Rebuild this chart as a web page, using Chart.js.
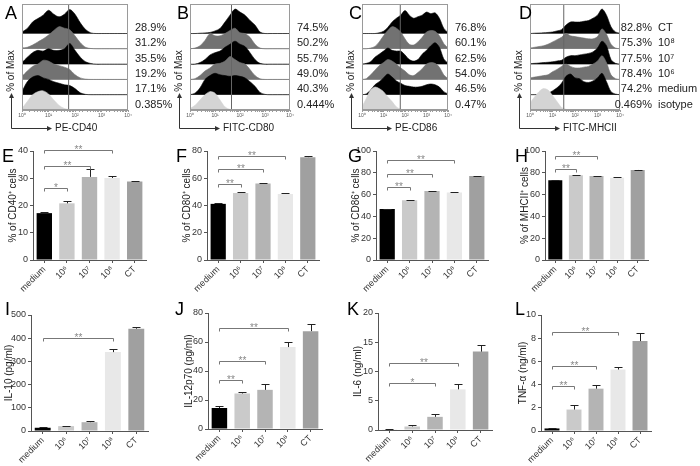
<!DOCTYPE html>
<html>
<head>
<meta charset="utf-8">
<script src="https://cdn.jsdelivr.net/npm/chart.js@4.4.0/dist/chart.umd.min.js"></script>
<style>
html, body { margin: 0; padding: 0; background: #fff; }
#wrap { position: relative; width: 700px; height: 466px; overflow: hidden; font-family: Arial, "Liberation Sans", sans-serif; }
#wrap canvas { position: absolute; left: 0; top: 0; }
.lt { position: absolute; font-size: 18px; line-height: 18px; color: #000; }
</style>
</head>
<body>
<div id="wrap">
  <canvas id="cA" width="700" height="466"></canvas>
  <canvas id="cB" width="700" height="466"></canvas>
  <canvas id="cC" width="700" height="466"></canvas>
  <canvas id="cD" width="700" height="466"></canvas>
  <canvas id="cE" width="700" height="466"></canvas>
  <canvas id="cF" width="700" height="466"></canvas>
  <canvas id="cG" width="700" height="466"></canvas>
  <canvas id="cH" width="700" height="466"></canvas>
  <canvas id="cI" width="700" height="466"></canvas>
  <canvas id="cJ" width="700" height="466"></canvas>
  <canvas id="cK" width="700" height="466"></canvas>
  <canvas id="cL" width="700" height="466"></canvas>
  <div class="lt" style="left:5px;top:4px">A</div>
  <div class="lt" style="left:177px;top:4px">B</div>
  <div class="lt" style="left:349px;top:4px">C</div>
  <div class="lt" style="left:519px;top:4px">D</div>
  <div class="lt" style="left:2px;top:147px">E</div>
  <div class="lt" style="left:176px;top:147px">F</div>
  <div class="lt" style="left:348px;top:147px">G</div>
  <div class="lt" style="left:515px;top:147px">H</div>
  <div class="lt" style="left:5px;top:300px">I</div>
  <div class="lt" style="left:175px;top:300px">J</div>
  <div class="lt" style="left:347px;top:300px">K</div>
  <div class="lt" style="left:515px;top:300px">L</div>
</div>
<script>
// ---- data ----
const groups = ['medium', '10⁶', '10⁷', '10⁸', 'CT'];
const rowNames = ['isotype', 'medium', '10⁶', '10⁷', '10⁸', 'CT']; // bottom to top
const logBins = [0, 0.2, 0.4, 0.6, 0.8, 1, 1.2, 1.4, 1.6, 1.8, 2, 2.2, 2.4, 2.6, 2.8, 3, 3.2, 3.4, 3.6, 3.8, 4];

// histogram heights (in row units), rows bottom to top: isotype, medium, 10^6, 10^7, 10^8, CT
const cd40Hist = [
  [0.1, 0.55, 1.0, 1.2, 1.25, 1.05, 0.65, 0.3, 0.1, 0.02, 0, 0, 0, 0, 0, 0, 0, 0, 0, 0, 0],
  [0.2, 0.85, 1.15, 1.25, 1.1, 1.0, 0.85, 0.75, 0.65, 0.6, 0.4, 0.12, 0.02, 0, 0, 0, 0, 0, 0, 0, 0],
  [0.2, 0.55, 0.85, 1.0, 1.25, 1.2, 1.0, 0.9, 0.8, 0.65, 0.3, 0.1, 0.02, 0, 0, 0, 0, 0, 0, 0, 0],
  [0.1, 0.45, 0.75, 0.9, 0.85, 1.0, 0.9, 0.9, 1.0, 1.35, 0.9, 0.45, 0.15, 0.04, 0, 0, 0, 0, 0, 0, 0],
  [0.05, 0.1, 0.25, 0.45, 0.65, 0.9, 1.2, 1.45, 1.35, 1.25, 0.85, 0.4, 0.1, 0.02, 0, 0, 0, 0, 0, 0, 0],
  [0.1, 0.33, 0.76, 0.98, 1.2, 1.52, 1.26, 1.09, 1.26, 1.57, 1.26, 0.7, 0.26, 0.04, 0, 0, 0, 0, 0, 0, 0]
];
const cd80Hist = [
  [0.1, 0.3, 0.65, 1.0, 1.2, 1.1, 0.65, 0.2, 0.04, 0, 0, 0, 0, 0, 0, 0, 0, 0, 0, 0, 0],
  [0, 0.1, 0.45, 1.0, 1.25, 1.4, 1.3, 1.25, 1.2, 1.25, 1.2, 1.1, 0.85, 0.55, 0.15, 0.02, 0, 0, 0, 0, 0],
  [0, 0.05, 0.25, 0.55, 0.75, 1.0, 1.05, 1.2, 1.5, 1.3, 1.1, 1.0, 0.65, 0.25, 0.04, 0, 0, 0, 0, 0, 0],
  [0, 0, 0.1, 0.3, 0.6, 0.75, 0.85, 1.1, 1.3, 1.5, 1.3, 1.15, 0.75, 0.3, 0.05, 0, 0, 0, 0, 0, 0],
  [0, 0.05, 0.2, 0.55, 1.0, 0.85, 0.85, 1.0, 1.2, 1.35, 1.05, 1.0, 0.75, 0.3, 0.05, 0, 0, 0, 0, 0, 0],
  [0, 0, 0.02, 0.04, 0.07, 0.17, 0.33, 0.75, 1.2, 1.6, 1.4, 1.2, 0.85, 0.55, 0.1, 0, 0, 0, 0, 0, 0]
];
const cd86Hist = [
  [0.2, 0.75, 1.3, 1.5, 1.4, 1.2, 0.85, 0.55, 0.2, 0.05, 0, 0, 0, 0, 0, 0, 0, 0, 0, 0, 0],
  [0, 0.05, 0.3, 0.65, 0.85, 1.1, 1.35, 1.15, 0.9, 0.75, 0.6, 0.55, 0.5, 0.5, 0.55, 0.65, 0.7, 0.65, 0.5, 0.2, 0.05],
  [0, 0.05, 0.3, 0.6, 0.9, 1.1, 1.3, 1.2, 1.0, 0.75, 0.55, 0.3, 0.25, 0.45, 0.7, 1.0, 1.1, 1.05, 0.8, 0.3, 0.05],
  [0, 0.05, 0.15, 0.45, 0.65, 0.85, 1.05, 0.9, 0.85, 0.85, 0.6, 0.3, 0.2, 0.3, 0.65, 0.9, 1.2, 1.4, 1.1, 0.35, 0.05],
  [0, 0, 0.05, 0.15, 0.45, 0.85, 1.2, 1.45, 1.35, 1.1, 0.65, 0.3, 0.25, 0.45, 0.75, 1.1, 1.2, 1.15, 0.85, 0.35, 0.05],
  [0, 0, 0, 0, 0.05, 0.15, 0.4, 0.75, 1.0, 1.2, 1.5, 1.2, 1.0, 1.1, 1.2, 1.4, 1.3, 1.35, 1.0, 0.35, 0.05]
];
const mhcHist = [
  [0.45, 0.85, 1.2, 1.4, 1.3, 0.95, 0.55, 0.17, 0.04, 0, 0, 0, 0, 0, 0, 0, 0, 0, 0, 0, 0],
  [0, 0, 0.02, 0.05, 0.1, 0.25, 0.45, 0.75, 1.2, 1.35, 1.1, 1.05, 0.85, 0.8, 0.9, 1.1, 1.4, 0.85, 0.2, 0.04, 0],
  [0.1, 0.15, 0.2, 0.25, 0.3, 0.5, 0.65, 0.85, 1.0, 0.85, 0.75, 0.75, 0.8, 0.85, 1.0, 1.2, 1.55, 1.1, 0.3, 0.05, 0],
  [0.03, 0.05, 0.07, 0.1, 0.12, 0.15, 0.2, 0.25, 0.45, 0.55, 0.55, 0.6, 0.65, 0.7, 0.8, 1.05, 1.5, 1.2, 0.3, 0.05, 0],
  [0.05, 0.1, 0.15, 0.2, 0.3, 0.45, 0.6, 0.75, 1.0, 0.85, 0.8, 0.75, 0.7, 0.65, 0.65, 0.8, 1.3, 0.95, 0.3, 0.05, 0],
  [0, 0.02, 0.03, 0.05, 0.07, 0.1, 0.17, 0.25, 0.55, 0.75, 0.75, 0.75, 0.8, 0.85, 1.0, 1.2, 1.6, 1.2, 0.45, 0.1, 0.02]
];

// gate position (log10 of fluorescence) and % positive, bottom to top
const cd40Gate = 1.76, cd80Gate = 1.66, cd86Gate = 1.78, mhcGate = 1.5;
const cd40Pct = ['0.385%', '17.1%', '19.2%', '35.5%', '31.2%', '28.9%'];
const cd80Pct = ['0.444%', '40.3%', '49.0%', '55.7%', '50.2%', '74.5%'];
const cd86Pct = ['0.47%', '46.5%', '54.0%', '62.5%', '60.1%', '76.8%'];
const mhcPct = ['0.469%', '74.2%', '78.4%', '77.5%', '75.3%', '82.8%'];

// bar values (mean) and error (SEM)
const cd40Mean = [17.2, 20.8, 30.5, 30.1, 28.8];
const cd40Err = [0.5, 1.0, 2.8, 0.6, 0.2];
const cd80Mean = [41.2, 49.2, 56.2, 48.5, 75.5];
const cd80Err = [0.5, 0.4, 0.5, 1.0, 0.6];
const cd86Mean = [46.8, 54.8, 63.2, 62.0, 77.0];
const cd86Err = [0.4, 0.4, 0.4, 0.6, 0.3];
const mhcMean = [73.2, 77.8, 77.0, 75.4, 82.6];
const mhcErr = [0.5, 0.3, 0.4, 0.3, 0.3];
const il10Mean = [14, 21, 38, 340, 441];
const il10Err = [2, 2, 6, 15, 8];
const il12Mean = [14.5, 24.5, 27, 56.5, 67.5];
const il12Err = [1.2, 0.8, 4, 3.5, 5];
const il6Mean = [0.08, 0.6, 2.25, 6.95, 13.4];
const il6Err = [0.02, 0.2, 0.4, 0.9, 1.1];
const tnfMean = [0.22, 1.85, 3.65, 5.3, 7.75];
const tnfErr = [0.03, 0.42, 0.35, 0.22, 0.68];

// significance brackets: [from group, to group, level, label]
const cd40Sig = [[0, 1, 26.5, '*'], [0, 2, 34.6, '**'], [0, 3, 40.4, '**']];
const cd80Sig = [[0, 1, 56, '**'], [0, 2, 67, '**'], [0, 3, 76, '**']];
const cd86Sig = [[0, 1, 67, '**'], [0, 2, 79, '**'], [0, 3, 92, '**']];
const mhcSig = [[0, 1, 83.5, '**'], [0, 2, 95, '**']];
const il10Sig = [[0, 3, 403, '**']];
const il12Sig = [[0, 1, 34, '**'], [0, 2, 47, '**'], [0, 3, 69.5, '**']];
const il6Sig = [[0, 2, 8.1, '*'], [0, 3, 11.5, '**']];
const tnfSig = [[0, 1, 3.9, '**'], [0, 2, 5.6, '**'], [0, 3, 8.5, '**']];

// ---- styling ----
const fam = 'Arial, "Liberation Sans", sans-serif';
Chart.defaults.font.family = fam;
Chart.defaults.color = '#333';
const barColors = ['#000000', '#cacaca', '#b4b4b4', '#e8e8e8', '#a0a0a0'];
const rowColors = ['#d4d4d4', '#000000', '#727272', '#000000', '#727272', '#000000'];
const axisCol = '#555';
const supDigits = ['⁰', '¹', '²', '³', '⁴'];

const histDeco = {
  id: 'histDeco',
  afterDraw(chart, args, o) {
    const { ctx, chartArea: a, scales: { y } } = chart;
    ctx.save();
    ctx.strokeStyle = '#9a9a9a';
    ctx.lineWidth = 1;
    ctx.strokeRect(a.left + 0.5, a.top + 0.5, a.right - a.left - 1, a.bottom - a.top - 1);
    ctx.fillStyle = '#222';
    ctx.font = '11px ' + fam;
    ctx.textBaseline = 'middle';
    o.pct.forEach((t, i) => {
      const yy = y.getPixelForValue(i + 0.35);
      if (o.names) {
        ctx.textAlign = 'right';
        ctx.fillText(t, a.right + 32, yy);
        ctx.textAlign = 'left';
        ctx.fillText(o.names[i], a.right + 38, yy);
      } else {
        ctx.textAlign = 'left';
        ctx.fillText(t, a.right + 7, yy);
      }
    });
    // axis arrows
    const ax = a.left - 10.5, ay = a.bottom + 18.5;
    ctx.strokeStyle = '#333';
    ctx.fillStyle = '#333';
    ctx.beginPath();
    ctx.moveTo(ax, a.bottom - 13);
    ctx.lineTo(ax, ay);
    ctx.lineTo(a.left + 25, ay);
    ctx.stroke();
    ctx.beginPath();
    ctx.moveTo(ax, a.bottom - 17); ctx.lineTo(ax - 2.5, a.bottom - 12); ctx.lineTo(ax + 2.5, a.bottom - 12);
    ctx.fill();
    ctx.beginPath();
    ctx.moveTo(a.left + 30, ay); ctx.lineTo(a.left + 25, ay - 2.5); ctx.lineTo(a.left + 25, ay + 2.5);
    ctx.fill();
    ctx.font = '10px ' + fam;
    ctx.fillStyle = '#222';
    ctx.textAlign = 'left';
    ctx.fillText(o.xTitle, a.left + 33, ay);
    ctx.translate(ax, a.bottom - 39);
    ctx.rotate(-Math.PI / 2);
    ctx.textAlign = 'center';
    ctx.fillText('% of Max', 0, 0);
    ctx.restore();
  }
};

const barDeco = {
  id: 'barDeco',
  afterDraw(chart, args, o) {
    const { ctx, scales: { x, y } } = chart;
    ctx.save();
    ctx.strokeStyle = '#222';
    ctx.lineWidth = 1;
    o.vals.forEach((v, i) => {
      const cx = Math.round(x.getPixelForValue(i)) + 0.5;
      const y0 = y.getPixelForValue(v), y1 = Math.round(y.getPixelForValue(v + o.errs[i])) + 0.5;
      ctx.beginPath();
      ctx.moveTo(cx, y0); ctx.lineTo(cx, y1);
      ctx.moveTo(cx - 4, y1); ctx.lineTo(cx + 4, y1);
      ctx.stroke();
    });
    ctx.strokeStyle = '#777';
    ctx.fillStyle = '#888';
    ctx.font = '10px ' + fam;
    ctx.textAlign = 'center';
    ctx.textBaseline = 'alphabetic';
    o.sig.forEach(([p, q, lv, lab]) => {
      const x0 = Math.round(x.getPixelForValue(p)) + 0.5, x1 = Math.round(x.getPixelForValue(q)) + 0.5;
      const yy = Math.round(y.getPixelForValue(lv)) + 0.5;
      ctx.beginPath();
      ctx.moveTo(x0, yy + 3); ctx.lineTo(x0, yy); ctx.lineTo(x1, yy); ctx.lineTo(x1, yy + 3);
      ctx.stroke();
      ctx.fillText(lab, (x0 + x1) / 2, yy + 2);
    });
    ctx.restore();
  }
};

function histChart(id, area, rows, gate, pct, names, xTitle) {
  const yMax = 6.93;
  const datasets = rows.map((h, i) => ({
    data: h.map((v, k) => ({ x: Math.pow(10, logBins[k]), y: i + v })),
    fill: { value: i },
    backgroundColor: rowColors[i],
    borderColor: rowColors[i],
    borderWidth: 0.6,
    pointRadius: 0,
    tension: 0.3
  }));
  datasets.push({
    data: [{ x: Math.pow(10, gate), y: 0 }, { x: Math.pow(10, gate), y: yMax }],
    borderColor: '#666', borderWidth: 1, pointRadius: 0, fill: false, order: -1
  });
  new Chart(document.getElementById(id), {
    type: 'line',
    data: { datasets },
    options: {
      responsive: false, animation: false, devicePixelRatio: 1,
      layout: { padding: { left: area.left - 2, top: area.top, right: 700 - area.right, bottom: 466 - area.bottom - 12 } },
      plugins: { legend: { display: false }, tooltip: { enabled: false }, histDeco: { pct, names, xTitle } },
      scales: {
        x: {
          type: 'logarithmic', min: 1, max: 10000,
          border: { color: '#9a9a9a' },
          grid: { drawOnChartArea: false, tickLength: 2, color: '#9a9a9a' },
          ticks: {
            autoSkip: false, maxRotation: 0, padding: 1, color: '#555', font: { size: 5 },
            callback: (v) => {
              const e = Math.log10(v);
              return Math.abs(e - Math.round(e)) < 1e-9 ? '10' + supDigits[Math.round(e)] : '';
            }
          },
          afterFit: (s) => { s.height = 12; }
        },
        y: {
          min: 0, max: yMax,
          border: { color: '#9a9a9a' },
          grid: { color: '#a8a8a8', drawTicks: false },
          ticks: { display: false },
          afterBuildTicks: (s) => { s.ticks = [1, 2, 3, 4, 5].map((v) => ({ value: v })); },
          afterFit: (s) => { s.width = 2; }
        }
      }
    },
    plugins: [histDeco]
  });
}

function barChart(id, area, vals, errs, sig, yMax, yStep, yTitle, titleX) {
  const yW = area.left - titleX + 6;
  new Chart(document.getElementById(id), {
    type: 'bar',
    data: {
      labels: groups,
      datasets: [{ data: vals, backgroundColor: barColors, borderWidth: 0, barPercentage: 0.68, categoryPercentage: 1 }]
    },
    options: {
      responsive: false, animation: false, devicePixelRatio: 1,
      layout: { padding: { left: area.left - yW, top: area.top, right: 700 - area.right, bottom: 466 - area.bottom - 40 } },
      plugins: { legend: { display: false }, tooltip: { enabled: false }, barDeco: { vals, errs, sig } },
      scales: {
        x: {
          offset: true,
          border: { color: axisCol },
          grid: { offset: false, drawOnChartArea: false, tickLength: 3, color: axisCol },
          ticks: { autoSkip: false, minRotation: 45, maxRotation: 45, padding: 1, color: '#333', font: { size: 9 } },
          afterFit: (s) => { s.height = 40; }
        },
        y: {
          min: 0, max: yMax,
          border: { color: axisCol },
          grid: { drawOnChartArea: false, tickLength: 3, color: axisCol },
          ticks: { stepSize: yStep, padding: 2, color: '#333', font: { size: 9 } },
          title: { display: true, text: yTitle, padding: 0, color: '#222', font: { size: 10 } },
          afterFit: (s) => { s.width = yW; }
        }
      }
    },
    plugins: [barDeco]
  });
}

histChart('cA', { left: 22, top: 4, right: 128, bottom: 110 }, cd40Hist, cd40Gate, cd40Pct, null, 'PE-CD40');
histChart('cB', { left: 190, top: 4, right: 290, bottom: 110 }, cd80Hist, cd80Gate, cd80Pct, null, 'FITC-CD80');
histChart('cC', { left: 362, top: 4, right: 448, bottom: 110 }, cd86Hist, cd86Gate, cd86Pct, null, 'PE-CD86');
histChart('cD', { left: 530, top: 4, right: 620, bottom: 110 }, mhcHist, mhcGate, mhcPct, rowNames, 'FITC-MHCII');

barChart('cE', { left: 33, top: 151, right: 146, bottom: 260 }, cd40Mean, cd40Err, cd40Sig, 40, 10, '% of CD40⁺ cells', 13);
barChart('cF', { left: 207, top: 151, right: 319, bottom: 260 }, cd80Mean, cd80Err, cd80Sig, 80, 20, '% of CD80⁺ cells', 187);
barChart('cG', { left: 376, top: 151, right: 488, bottom: 260 }, cd86Mean, cd86Err, cd86Sig, 100, 20, '% of CD86⁺ cells', 356);
barChart('cH', { left: 545, top: 151, right: 648, bottom: 260 }, mhcMean, mhcErr, mhcSig, 100, 20, '% of MHCII⁺ cells', 525);
barChart('cI', { left: 31, top: 315, right: 148, bottom: 431 }, il10Mean, il10Err, il10Sig, 500, 100, 'IL-10 (pg/ml)', 9);
barChart('cJ', { left: 208, top: 313, right: 322, bottom: 429 }, il12Mean, il12Err, il12Sig, 80, 20, 'IL-12p70 (pg/ml)', 189);
barChart('cK', { left: 378, top: 313, right: 492, bottom: 430 }, il6Mean, il6Err, il6Sig, 20, 5, 'IL-6 (ng/ml)', 358);
barChart('cL', { left: 541, top: 315, right: 651, bottom: 431 }, tnfMean, tnfErr, tnfSig, 10, 2, 'TNF-α (ng/ml)', 523);
</script>
</body>
</html>
